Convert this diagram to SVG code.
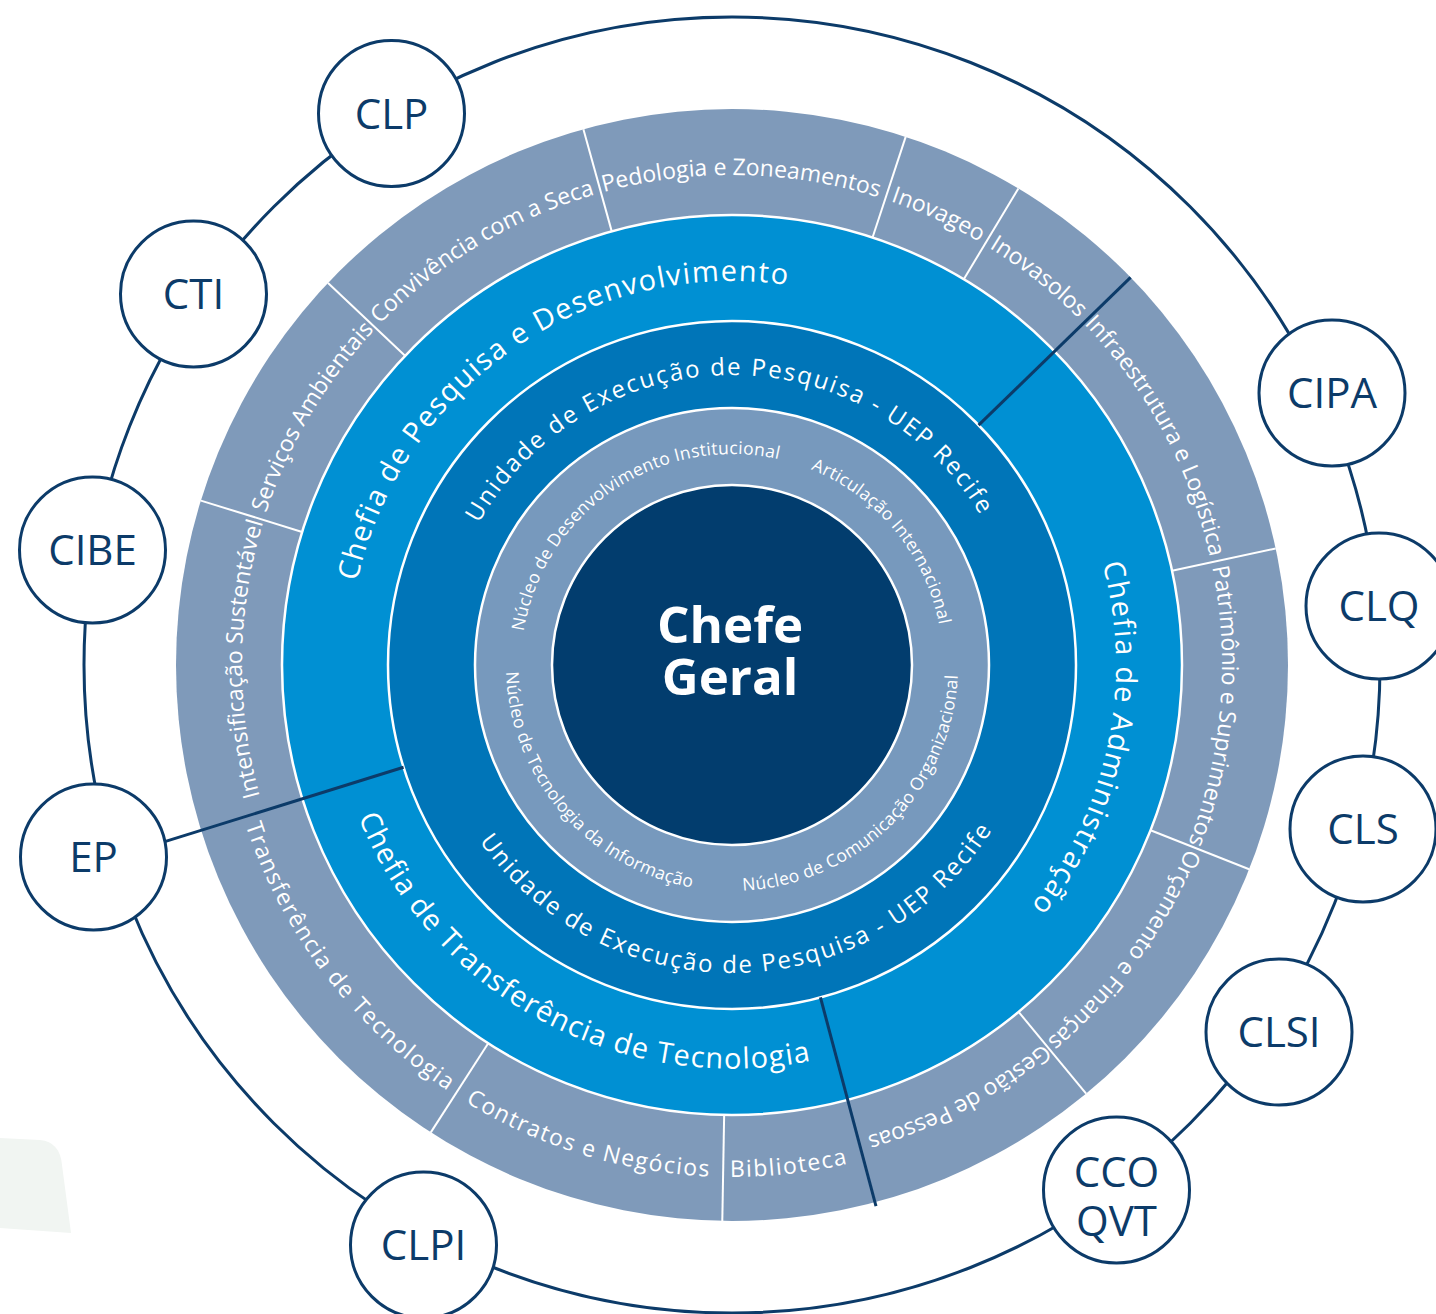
<svg xmlns="http://www.w3.org/2000/svg" width="1436" height="1314" viewBox="0 0 1436 1314">
<style>
.rl{stroke:#fff;stroke-width:2.5}
.dv{stroke:#fff;stroke-width:2}
.dk{stroke:#0c3b69;stroke-width:3;fill:none}
.conn{stroke:#0c3b69;stroke-width:3;fill:none}
.node{fill:#fff;stroke:#0c3b69;stroke-width:3}
.nl{font-family:"Open Sans","Noto Sans",sans-serif;font-size:42px;fill:#0c3b69;text-anchor:middle}
.t{font-family:"Open Sans","Noto Sans",sans-serif;fill:#fff;text-anchor:middle}
.o{font-size:23px}
.oc{font-size:23px;letter-spacing:1.5px}
.b{font-size:29px;letter-spacing:1.5px}
.b2{font-size:29px;letter-spacing:1.2px}
.m{font-size:24px;letter-spacing:2px}
.i{font-size:17.5px;letter-spacing:0.3px}
.cg{font-family:"Open Sans","Noto Sans",sans-serif;font-size:51px;font-weight:bold;fill:#fff;text-anchor:middle}
</style>
<defs>
<path id="pO" d="M249.44,579.91 A490,490 0 0 1 1214.56,579.91"/>
<path id="pOc" d="M227.78,753.91 A512,512 0 0 0 1236.22,753.91"/>
<path id="pB" d="M353.83,598.32 A384,384 0 0 1 1110.17,598.32"/>
<path id="pBc" d="M335.12,735.68 A403,403 0 0 0 1128.88,735.68"/>
<path id="pM" d="M446.41,614.64 A290,290 0 0 1 1017.59,614.64"/>
<path id="pMc" d="M428.68,718.48 A308,308 0 0 0 1035.32,718.48"/>
<path id="pI" d="M524.21,628.36 A211,211 0 0 1 939.79,628.36"/>
<path id="pIc" d="M509.43,704.24 A226,226 0 0 0 954.57,704.24"/>
</defs>
<rect width="1436" height="1314" fill="#fff"/>
<path d="M0,1138 L40,1140 Q60,1142 62,1165 L71,1233 L0,1228 Z" fill="#f1f5f2"/>

<g id="ring-outer">
<circle cx="732" cy="665" r="556" fill="#7f9aba"/>
<line class="dv" x1="302.12" y1="531.93" x2="200.86" y2="500.59"/>
<line class="dv" x1="405.04" y1="355.80" x2="328.03" y2="282.97"/>
<line class="dv" x1="611.74" y1="231.37" x2="583.41" y2="129.22"/>
<line class="dv" x1="872.55" y1="237.51" x2="905.66" y2="136.82"/>
<line class="dv" x1="963.77" y1="279.27" x2="1018.36" y2="188.41"/>
<line class="dv" x1="1172.00" y1="570.67" x2="1275.65" y2="548.45"/>
<line class="dv" x1="1150.55" y1="830.29" x2="1249.14" y2="869.22"/>
<line class="dv" x1="1018.61" y1="1011.92" x2="1086.12" y2="1093.64"/>
<line class="dv" x1="724.15" y1="1114.93" x2="722.30" y2="1220.92"/>
<line class="dv" x1="488.23" y1="1043.26" x2="430.81" y2="1132.36"/>
<text class="t o" transform="rotate(-31.1 732 665)"><textPath href="#pO" startOffset="50%">Convivência com a Seca</textPath></text>
<text class="t o" transform="rotate(1.1 732 665)"><textPath href="#pO" startOffset="50%">Pedologia e Zoneamentos</textPath></text>
<text class="t o" transform="rotate(24.6 732 665)"><textPath href="#pO" startOffset="50%">Inovageo</textPath></text>
<text class="t o" transform="rotate(38.3 732 665)"><textPath href="#pO" startOffset="50%">Inovasolos</textPath></text>
<text class="t o" transform="rotate(61.6 732 665)"><textPath href="#pO" startOffset="50%">Infraestrutura e Logística</textPath></text>
<text class="t o" transform="rotate(94.9 732 665)"><textPath href="#pO" startOffset="50%">Patrimônio e Suprimentos</textPath></text>
<text class="t o" transform="rotate(126 732 665)"><textPath href="#pO" startOffset="50%">Orçamento e Finanças</textPath></text>
<text class="t o" transform="rotate(152.3 732 665)"><textPath href="#pO" startOffset="50%">Gestão de Pessoas</textPath></text>
<text class="t oc" transform="rotate(-6.5 732 665)"><textPath href="#pOc" startOffset="50%">Biblioteca</textPath></text>
<text class="t oc" transform="rotate(16.9 732 665)"><textPath href="#pOc" startOffset="50%">Contratos e Negócios</textPath></text>
<text class="t oc" transform="rotate(52.7 732 665)"><textPath href="#pOc" startOffset="50%">Transferência de Tecnologia</textPath></text>
<text class="t o" transform="rotate(-89.3 732 665)"><textPath href="#pO" startOffset="50%">Intensificação Sustentável</textPath></text>
<text class="t o" transform="rotate(-59.4 732 665)"><textPath href="#pO" startOffset="50%">Serviços Ambientais</textPath></text>
</g>

<g id="ring-chefias">
<circle class="rl" cx="732" cy="665" r="450" fill="#0090d3"/>
<text class="t b" transform="rotate(-34.5 732 665)"><textPath href="#pB" startOffset="50%">Chefia de Pesquisa e Desenvolvimento</textPath></text>
<text class="t b" transform="rotate(101.9 732 665)"><textPath href="#pB" startOffset="50%">Chefia de Administração</textPath></text>
<text class="t b2" transform="rotate(28.2 732 665)"><textPath href="#pBc" startOffset="50%">Chefia de Transferência de Tecnologia</textPath></text>
</g>

<g id="ring-uep">
<circle class="rl" cx="732" cy="665" r="344" fill="#0075b8"/>
<text class="t m" transform="rotate(-0.8 732 665)"><textPath href="#pM" startOffset="50%">Unidade de Execução de Pesquisa - UEP Recife</textPath></text>
<text class="t m" transform="rotate(-1.4 732 665)"><textPath href="#pMc" startOffset="50%">Unidade de Execução de Pesquisa - UEP Recife</textPath></text>
</g>

<g id="ring-nucleos">
<circle class="rl" cx="732" cy="665" r="257" fill="#7799bd"/>
<text class="t i" transform="rotate(-34 732 665)"><textPath href="#pI" startOffset="50%">Núcleo de Desenvolvimento Institucional</textPath></text>
<text class="t i" transform="rotate(50.5 732 665)"><textPath href="#pI" startOffset="50%">Articulação Internacional</textPath></text>
<text class="t i" transform="rotate(49.2 732 665)"><textPath href="#pIc" startOffset="50%">Núcleo de Tecnologia da Informação</textPath></text>
<text class="t i" transform="rotate(-45.1 732 665)"><textPath href="#pIc" startOffset="50%">Núcleo de Comunicação Organizacional</textPath></text>
</g>

<g id="chefe-geral">
<circle class="rl" cx="732" cy="665" r="180" fill="#023d6e"/>
<text class="cg"><tspan x="730" y="643">Chefe</tspan><tspan x="730" y="695">Geral</tspan></text>
</g>

<g id="dividers">
<line class="dk" x1="978.62" y1="425.17" x2="1130.60" y2="277.37"/>
<line class="dk" x1="820.45" y1="997.43" x2="875.99" y2="1206.17"/>
</g>

<g id="connectors">
<circle class="conn" cx="732" cy="665" r="648"/>
<line class="dk" x1="403.56" y1="767.30" x2="159.14" y2="843.42"/>
</g>

<g id="node-CLP"><circle class="node" cx="391.5" cy="113.5" r="73"/><text class="nl" x="391.5" y="128.5">CLP</text></g>
<g id="node-CTI"><circle class="node" cx="193.5" cy="294" r="73"/><text class="nl" x="193.5" y="309">CTI</text></g>
<g id="node-CIBE"><circle class="node" cx="92.5" cy="550" r="73"/><text class="nl" x="92.5" y="565">CIBE</text></g>
<g id="node-EP"><circle class="node" cx="93.5" cy="857" r="73"/><text class="nl" x="93.5" y="872">EP</text></g>
<g id="node-CLPI"><circle class="node" cx="423.5" cy="1245" r="73"/><text class="nl" x="423.5" y="1260">CLPI</text></g>
<g id="node-CCOQVT"><circle class="node" cx="1116.5" cy="1190" r="73"/><text class="nl"><tspan x="1116.5" y="1187">CCO</tspan><tspan x="1116.5" y="1236">QVT</tspan></text></g>
<g id="node-CLSI"><circle class="node" cx="1279" cy="1032" r="73"/><text class="nl" x="1279" y="1047">CLSI</text></g>
<g id="node-CLS"><circle class="node" cx="1363" cy="829" r="73"/><text class="nl" x="1363" y="844">CLS</text></g>
<g id="node-CLQ"><circle class="node" cx="1379" cy="606" r="73"/><text class="nl" x="1379" y="621">CLQ</text></g>
<g id="node-CIPA"><circle class="node" cx="1332" cy="393" r="73"/><text class="nl" x="1332" y="408">CIPA</text></g>
</svg>
